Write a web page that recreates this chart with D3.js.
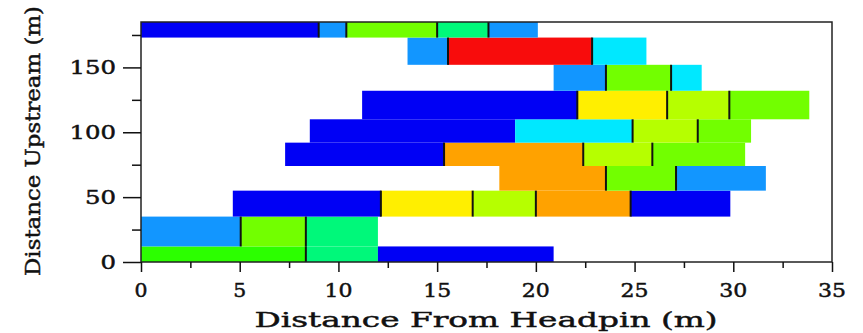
<!DOCTYPE html>
<html>
<head>
<meta charset="utf-8">
<script src="https://cdn.jsdelivr.net/npm/d3@7"></script>
<style>
  body { margin: 0; background: #fff; }
  svg { display: block; }
  text { font-family: "DejaVu Serif", serif; fill: #111; stroke: #111; stroke-width: 0.45px; }
</style>
</head>
<body>
<div id="chart"></div>
<script>
// rows of the survey grid (distance upstream, m)
const rowLow  = [0, 12, 35, 55, 74, 92, 110, 132, 152, 173];
const rowHigh = [12, 35, 55, 74, 92, 110, 132, 152, 173, 185];

// break points along each row (distance from headpin, m)
const rowBreaks = [
    [0, 8.35, 12.0, 20.9],
    [0, 5.05, 8.35, 12.0],
    [4.65, 12.15, 16.8, 20.0, 24.8, 29.85],
    [18.15, 23.55, 27.1, 31.65],
    [7.3, 15.35, 22.4, 25.9, 30.6],
    [8.55, 18.95, 24.9, 28.2, 30.9],
    [11.2, 22.1, 26.65, 29.8, 33.85],
    [20.9, 23.55, 26.85, 28.4],
    [13.5, 15.55, 22.85, 25.6],
    [0, 9.0, 10.4, 15.0, 17.6, 20.1]
];

// class of each cell between the break points
const rowClass = [
    ['green', 'spring', 'blue'],
    ['azure', 'lime', 'spring'],
    ['blue', 'yellow', 'yellowgreen', 'orange', 'blue'],
    ['orange', 'lime', 'azure'],
    ['blue', 'orange', 'yellowgreen', 'lime'],
    ['blue', 'cyan', 'yellowgreen', 'lime'],
    ['blue', 'yellow', 'yellowgreen', 'lime'],
    ['azure', 'lime', 'cyan'],
    ['azure', 'red', 'cyan'],
    ['blue', 'azure', 'lime', 'spring', 'azure']
];

// inner breaks drawn without a black divider
const noDivider = [[12.0], [12.0], [], [], [], [18.95], [], [], [], []];

const xTicks = [0, 5, 10, 15, 20, 25, 30, 35];
const yTicks = [0, 50, 100, 150];

const classNames = ['blue', 'azure', 'cyan', 'spring', 'green', 'lime', 'yellowgreen', 'yellow', 'orange', 'red'];
const colour = d3.scaleOrdinal()
    .domain(classNames)
    .range(['#0000f5', '#1296ff', '#00e8ff', '#00f87a', '#2cff00', '#72ff00', '#b6ff00', '#ffef00', '#ffa200', '#f80c0c']);

const width = 863, height = 333;
const margin = { top: 22, right: 31, bottom: 71, left: 141 };

const x = d3.scaleLinear().domain([0, 35]).range([margin.left, width - margin.right]);
const y = d3.scaleLinear().domain([0, 185]).range([height - margin.bottom, margin.top]);

const svg = d3.select('#chart')
    .append('svg')
    .attr('width', width)
    .attr('height', height);

// cells
let cells = [];
let dividers = [];
rowBreaks.forEach((breaks, r) => {
    for (let i = 0; i < breaks.length - 1; i++) {
        cells.push({ x0: breaks[i], x1: breaks[i + 1], y0: rowLow[r], y1: rowHigh[r], c: rowClass[r][i] });
        if (i > 0 && noDivider[r].indexOf(breaks[i]) < 0) {
            dividers.push({ x: breaks[i], y0: rowLow[r], y1: rowHigh[r] });
        }
    }
});

svg.append('g')
    .selectAll('rect')
    .data(cells)
    .enter()
    .append('rect')
    .attr('x', d => x(d.x0))
    .attr('y', d => y(d.y1))
    .attr('width', d => x(d.x1) - x(d.x0))
    .attr('height', d => y(d.y0) - y(d.y1))
    .attr('fill', d => colour(d.c));

svg.append('g')
    .selectAll('line')
    .data(dividers)
    .enter()
    .append('line')
    .attr('x1', d => x(d.x))
    .attr('x2', d => x(d.x))
    .attr('y1', d => y(d.y0))
    .attr('y2', d => y(d.y1))
    .attr('stroke', '#111')
    .attr('stroke-width', 2);

// frame
svg.append('rect')
    .attr('x', x(0))
    .attr('y', y(185))
    .attr('width', x(35) - x(0))
    .attr('height', y(0) - y(185))
    .attr('fill', 'none')
    .attr('stroke', '#222')
    .attr('stroke-width', 1.5);

// x axis
const xAxis = svg.append('g')
    .attr('transform', `translate(0, ${y(0)})`);
xAxis.call(d3.axisBottom(x).tickValues(d3.range(0, 35.1, 2.5)).tickSize(5).tickFormat(''));
xAxis.call(g => g.select('.domain').remove());
xAxis.selectAll('.tick line')
    .attr('stroke', '#111')
    .attr('stroke-width', 1.5)
    .attr('y2', d => (d % 5 === 0 ? 10 : 6));

svg.append('g')
    .selectAll('text')
    .data(xTicks)
    .enter()
    .append('text')
    .attr('x', d => x(d))
    .attr('y', 297)
    .attr('text-anchor', 'middle')
    .attr('font-size', 18)
    .attr('textLength', d => (d < 10 ? 13 : 28))
    .attr('lengthAdjust', 'spacingAndGlyphs')
    .text(d => d);

// y axis
const yAxis = svg.append('g')
    .attr('transform', `translate(${x(0)}, 0)`);
yAxis.call(d3.axisLeft(y).tickValues(d3.range(0, 176, 25)).tickSize(9).tickFormat(''));
yAxis.call(g => g.select('.domain').remove());
yAxis.selectAll('.tick line')
    .attr('stroke', '#111')
    .attr('stroke-width', 1.5)
    .attr('x2', d => (d % 50 === 0 ? -18 : -9));

svg.append('g')
    .selectAll('text')
    .data(yTicks)
    .enter()
    .append('text')
    .attr('x', 116)
    .attr('y', d => y(d) + 7)
    .attr('text-anchor', 'end')
    .attr('font-size', 18)
    .attr('textLength', d => String(d).length * 15.5)
    .attr('lengthAdjust', 'spacingAndGlyphs')
    .text(d => d);

// titles
svg.append('text')
    .attr('x', 486)
    .attr('y', 327)
    .attr('text-anchor', 'middle')
    .attr('font-size', 21)
    .attr('textLength', 463)
    .attr('lengthAdjust', 'spacingAndGlyphs')
    .text('Distance From Headpin (m)');

svg.append('text')
    .attr('transform', 'translate(40, 141) rotate(-90)')
    .attr('text-anchor', 'middle')
    .attr('font-size', 21)
    .attr('textLength', 270)
    .attr('lengthAdjust', 'spacingAndGlyphs')
    .text('Distance Upstream (m)');
</script>
</body>
</html>
